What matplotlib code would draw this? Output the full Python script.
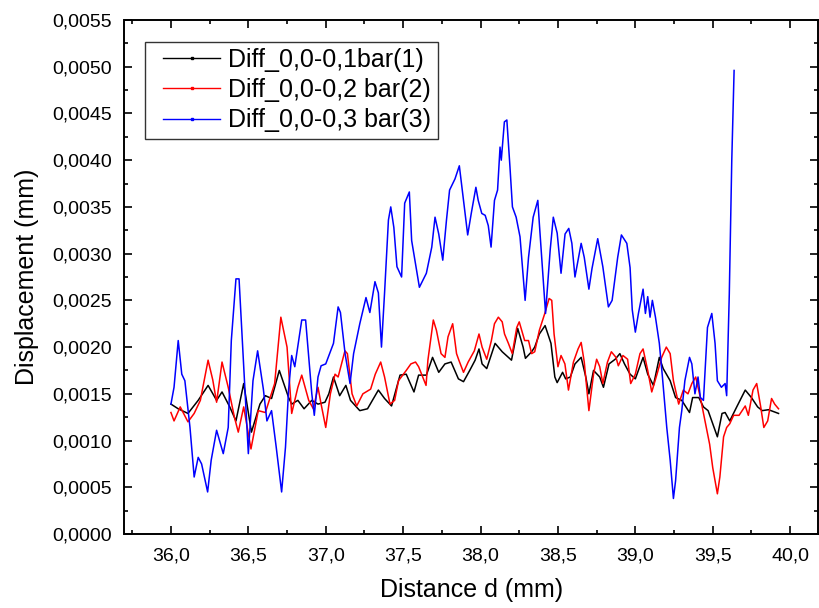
import matplotlib
matplotlib.use("Agg")
import matplotlib.pyplot as plt
from matplotlib.ticker import MultipleLocator, FuncFormatter
from matplotlib.lines import Line2D
from matplotlib.legend_handler import HandlerLine2D

plt.rcParams['font.family'] = ['Liberation Sans', 'DejaVu Sans']

# Distance (mm) / displacement (mm) for the three pressure differences
d_1 = [36.00, 36.047, 36.11, 36.176, 36.24, 36.295, 36.33, 36.38, 36.42, 36.47,
       36.52, 36.575, 36.61, 36.65, 36.70, 36.76, 36.78, 36.82, 36.86, 36.91,
       36.95, 36.995, 37.02, 37.05, 37.09, 37.13, 37.16, 37.22, 37.27, 37.34,
       37.38, 37.425, 37.48, 37.52, 37.57, 37.60, 37.65, 37.69, 37.73, 37.77,
       37.81, 37.857, 37.89, 37.93, 37.965, 37.99, 38.01, 38.04, 38.094, 38.14,
       38.18, 38.20, 38.24, 38.275, 38.29, 38.33, 38.35, 38.38, 38.417, 38.455,
       38.48, 38.495, 38.53, 38.55, 38.58, 38.61, 38.65, 38.68, 38.70, 38.73,
       38.77, 38.794, 38.83, 38.87, 38.90, 38.93, 38.966, 39.00, 39.05, 39.08,
       39.117, 39.155, 39.18, 39.225, 39.26, 39.30, 39.35, 39.37, 39.41, 39.44,
       39.47, 39.53, 39.56, 39.58, 39.61, 39.655, 39.71, 39.75, 39.79, 39.82,
       39.86, 39.925]
v_1 = [0.00139, 0.00134, 0.00129, 0.00143, 0.00159, 0.00143, 0.00152, 0.00136, 0.00121, 0.00161,
       0.00109, 0.00139, 0.00148, 0.00145, 0.00175, 0.00146, 0.00139, 0.00143, 0.00134, 0.00143,
       0.00139, 0.00141, 0.00150, 0.00168, 0.00148, 0.00159, 0.00143, 0.00132, 0.00134, 0.00154,
       0.00145, 0.00137, 0.00170, 0.00171, 0.00152, 0.00170, 0.00170, 0.00189, 0.00173, 0.00182,
       0.00184, 0.00166, 0.00163, 0.00175, 0.00186, 0.00198, 0.00182, 0.00177, 0.00204, 0.00195,
       0.00189, 0.00186, 0.00220, 0.00200, 0.00188, 0.00195, 0.00200, 0.00214, 0.00223, 0.00204,
       0.00168, 0.00162, 0.00173, 0.00166, 0.00168, 0.00182, 0.00189, 0.00168, 0.00150, 0.00175,
       0.00168, 0.00157, 0.00182, 0.00187, 0.00193, 0.00182, 0.00171, 0.00166, 0.00189, 0.00171,
       0.00159, 0.00189, 0.00177, 0.00164, 0.00146, 0.00143, 0.00130, 0.00146, 0.00146, 0.00136,
       0.00132, 0.00104, 0.00129, 0.00130, 0.00121, 0.00136, 0.00154, 0.00146, 0.00136, 0.00132,
       0.00133, 0.00129]

d_2 = [36.00, 36.02, 36.06, 36.11, 36.15, 36.19, 36.24, 36.27, 36.295, 36.33,
       36.37, 36.41, 36.435, 36.47, 36.517, 36.564, 36.61, 36.67, 36.71, 36.75,
       36.78, 36.82, 36.845, 36.89, 36.92, 36.95, 36.97, 37.00, 37.03, 37.06,
       37.08, 37.124, 37.14, 37.17, 37.20, 37.24, 37.29, 37.32, 37.355, 37.38,
       37.415, 37.445, 37.47, 37.52, 37.55, 37.58, 37.60, 37.648, 37.66, 37.695,
       37.715, 37.745, 37.77, 37.79, 37.82, 37.845, 37.86, 37.89, 37.92, 37.96,
       37.99, 38.01, 38.04, 38.07, 38.09, 38.115, 38.14, 38.155, 38.18, 38.205,
       38.234, 38.25, 38.285, 38.31, 38.33, 38.35, 38.38, 38.415, 38.443, 38.46,
       38.475, 38.50, 38.52, 38.545, 38.568, 38.60, 38.63, 38.65, 38.67, 38.70,
       38.73, 38.75, 38.77, 38.79, 38.82, 38.845, 38.875, 38.89, 38.92, 38.95,
       38.97, 39.00, 39.03, 39.05, 39.08, 39.106, 39.14, 39.17, 39.20, 39.225,
       39.246, 39.28, 39.31, 39.34, 39.365, 39.39, 39.42, 39.45, 39.48, 39.50,
       39.53, 39.546, 39.57, 39.59, 39.61, 39.635, 39.67, 39.71, 39.73, 39.76,
       39.784, 39.81, 39.83, 39.855, 39.88, 39.90, 39.925]
v_2 = [0.00130, 0.00121, 0.00136, 0.00120, 0.00129, 0.00143, 0.00186, 0.00165, 0.00141, 0.00184,
       0.00157, 0.00125, 0.00109, 0.00136, 0.00091, 0.00132, 0.00130, 0.00161, 0.00232, 0.00200,
       0.00129, 0.00157, 0.00170, 0.00143, 0.00134, 0.00157, 0.00139, 0.00114, 0.00150, 0.00171,
       0.00168, 0.00196, 0.00193, 0.00150, 0.00137, 0.00150, 0.00155, 0.00171, 0.00184, 0.00168,
       0.00139, 0.00143, 0.00164, 0.00175, 0.00182, 0.00184, 0.00179, 0.00159, 0.00186, 0.00229,
       0.00218, 0.00193, 0.00189, 0.00211, 0.00225, 0.00193, 0.00186, 0.00173, 0.00184, 0.00196,
       0.00214, 0.00200, 0.00187, 0.00207, 0.00225, 0.00232, 0.00227, 0.00214, 0.00204, 0.00193,
       0.00221, 0.00227, 0.00207, 0.00207, 0.00193, 0.00195, 0.00218, 0.00236, 0.00252, 0.00250,
       0.00214, 0.00179, 0.00191, 0.00182, 0.00154, 0.00184, 0.00198, 0.00205, 0.00184, 0.00132,
       0.00171, 0.00187, 0.00179, 0.00161, 0.00184, 0.00195, 0.00189, 0.00180, 0.00191, 0.00187,
       0.00161, 0.00171, 0.00193, 0.00198, 0.00175, 0.00152, 0.00171, 0.00189, 0.00200, 0.00193,
       0.00164, 0.00139, 0.00154, 0.00150, 0.00161, 0.00168, 0.00146, 0.00121, 0.00096, 0.00071,
       0.00043, 0.00061, 0.00104, 0.00114, 0.00118, 0.00127, 0.00127, 0.00137, 0.00127, 0.00154,
       0.00161, 0.00136, 0.00114, 0.00121, 0.00145, 0.00139, 0.00134]

d_3 = [36.00, 36.02, 36.047, 36.07, 36.09, 36.123, 36.15, 36.176, 36.198, 36.237,
       36.26, 36.295, 36.338, 36.37, 36.39, 36.42, 36.44, 36.467, 36.50, 36.53,
       36.56, 36.597, 36.62, 36.65, 36.68, 36.715, 36.74, 36.76, 36.78, 36.80,
       36.845, 36.87, 36.91, 36.926, 36.95, 36.97, 37.00, 37.05, 37.08, 37.095,
       37.125, 37.157, 37.18, 37.22, 37.26, 37.285, 37.318, 37.34, 37.36, 37.38,
       37.405, 37.42, 37.44, 37.46, 37.49, 37.51, 37.54, 37.555, 37.58, 37.605,
       37.65, 37.685, 37.706, 37.73, 37.756, 37.78, 37.80, 37.835, 37.863, 37.89,
       37.917, 37.94, 37.97, 37.985, 38.008, 38.03, 38.05, 38.068, 38.09, 38.11,
       38.126, 38.134, 38.154, 38.17, 38.19, 38.206, 38.23, 38.255, 38.288, 38.31,
       38.34, 38.37, 38.38, 38.42, 38.45, 38.47, 38.495, 38.52, 38.546, 38.57,
       38.59, 38.61, 38.65, 38.67, 38.70, 38.72, 38.757, 38.77, 38.79, 38.826,
       38.85, 38.886, 38.91, 38.945, 38.966, 38.98, 39.00, 39.02, 39.05, 39.065,
       39.08, 39.095, 39.11, 39.13, 39.155, 39.175, 39.203, 39.225, 39.246, 39.26,
       39.285, 39.30, 39.32, 39.35, 39.365, 39.385, 39.405, 39.42, 39.44, 39.466,
       39.494, 39.515, 39.53, 39.556, 39.58, 39.59, 39.607, 39.623, 39.638]
v_3 = [0.00139, 0.00157, 0.00207, 0.00171, 0.00164, 0.00114, 0.00061, 0.00082, 0.00075, 0.00045,
       0.00079, 0.00111, 0.00086, 0.00114, 0.00207, 0.00273, 0.00273, 0.00189, 0.00086, 0.00164,
       0.00196, 0.00155, 0.00121, 0.00132, 0.00093, 0.00045, 0.00093, 0.00154, 0.00191, 0.00179,
       0.00229, 0.00229, 0.00150, 0.00127, 0.00168, 0.00180, 0.00182, 0.00204, 0.00243, 0.00237,
       0.00193, 0.00161, 0.00193, 0.00225, 0.00253, 0.00237, 0.00270, 0.00258, 0.00200, 0.00258,
       0.00336, 0.00350, 0.00328, 0.00286, 0.00275, 0.00354, 0.00366, 0.00314, 0.00289, 0.00264,
       0.00279, 0.00307, 0.00339, 0.00321, 0.00293, 0.00336, 0.00368, 0.00380, 0.00394, 0.00357,
       0.00320, 0.00343, 0.00371, 0.00357, 0.00343, 0.00341, 0.00330, 0.00307, 0.00357, 0.00368,
       0.00414, 0.00400, 0.00441, 0.00443, 0.00393, 0.00350, 0.00339, 0.00318, 0.00250, 0.00296,
       0.00339, 0.00357, 0.00332, 0.00236, 0.00304, 0.00339, 0.00322, 0.00279, 0.00321, 0.00327,
       0.00311, 0.00275, 0.00311, 0.00296, 0.00262, 0.00284, 0.00316, 0.00304, 0.00286, 0.00243,
       0.00250, 0.00296, 0.00320, 0.00311, 0.00285, 0.00240, 0.00216, 0.00236, 0.00262, 0.00236,
       0.00254, 0.00232, 0.00250, 0.00232, 0.00204, 0.00168, 0.00114, 0.00079, 0.00038, 0.00057,
       0.00114, 0.00132, 0.00164, 0.00189, 0.00182, 0.00150, 0.00168, 0.00146, 0.00143, 0.00221,
       0.00236, 0.00204, 0.00164, 0.00157, 0.00161, 0.00148, 0.00257, 0.00400, 0.00496]

labels = ["Diff_0,0-0,1bar(1)", "Diff_0,0-0,2 bar(2)", "Diff_0,0-0,3 bar(3)"]
colors = ["#000000", "#ff0000", "#0000ff"]

fig = plt.figure(figsize=(8.19, 6.08), dpi=100)
ax = fig.add_axes([124.5 / 819, 74 / 608, 693.5 / 819, 514 / 608])

for d, v, c in zip([d_1, d_2, d_3], [v_1, v_2, v_3], colors):
    ax.plot(d, v, color=c, lw=1.1)

ax.set_xlim(35.7, 40.18)
ax.set_ylim(0, 0.0055)
ax.xaxis.set_major_locator(MultipleLocator(0.5))
ax.xaxis.set_minor_locator(MultipleLocator(0.25))
ax.yaxis.set_major_locator(MultipleLocator(0.0005))
ax.yaxis.set_minor_locator(MultipleLocator(0.00025))
ax.xaxis.set_major_formatter(FuncFormatter(lambda v, p: f"{v:.1f}".replace('.', ',')))
ax.yaxis.set_major_formatter(FuncFormatter(lambda v, p: f"{v:.4f}".replace('.', ',')))

for s in ax.spines.values():
    s.set_linewidth(1.4)
ax.tick_params(which='both', direction='in', top=True, right=True, width=1.2)
ax.tick_params(which='major', length=6)
ax.tick_params(which='minor', length=3)
ax.tick_params(axis='x', which='major', labelsize=14, pad=10)
ax.tick_params(axis='y', which='major', labelsize=14, pad=9)

ax.set_xlabel("Distance d (mm)", fontsize=18)
ax.set_ylabel("Displacement (mm)", fontsize=18)
ax.xaxis.set_label_coords(0.5, -0.086)
ax.yaxis.set_label_coords(-0.124, 0.5)

handles = [Line2D([], [], color=c, lw=1.0, marker='s', markersize=1.6) for c in colors]
leg = ax.legend(handles, labels, loc='upper left', bbox_to_anchor=(20.5 / 693.5, 1 - 21.7 / 514),
                borderaxespad=0, fontsize=18, frameon=True, fancybox=False,
                handlelength=2.75, handletextpad=0.33, borderpad=0.25, labelspacing=0.25,
                handler_map={Line2D: HandlerLine2D(xpad=0.48, numpoints=1)})
leg.get_frame().set_edgecolor('black')
leg.get_frame().set_linewidth(1.0)

fig.savefig("out.png", dpi=100)
